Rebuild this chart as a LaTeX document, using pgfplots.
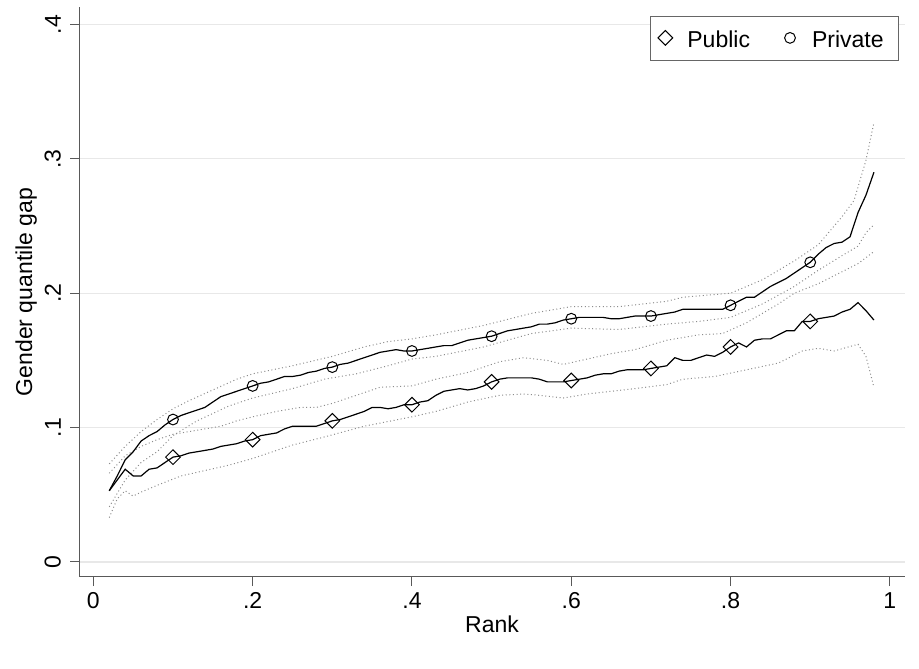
\documentclass[border=0pt]{standalone}
\usepackage{fontspec}
\setmainfont{Liberation Sans}
\usepackage{pgfplots}
\pgfplotsset{compat=1.18}
\begin{document}
\begin{tikzpicture}[font=\fontsize{23bp}{27bp}\selectfont]
\useasboundingbox (0,0) rectangle (919bp,669bp);
\begin{axis}[
  at={(79bp,92bp)}, anchor=south west,
  scale only axis, width=826bp, height=570bp,
  xmin=-0.018, xmax=1.019, ymin=-0.0112, ymax=0.413,
  axis x line*=bottom, axis y line*=left,
  axis line style={black!65, line width=1bp, -},
  xtick={0,0.2,0.4,0.6,0.8,1}, xticklabels={0,.2,.4,.6,.8,1},
  ytick={0,0.1,0.2,0.3,0.4}, yticklabels={0,.1,.2,.3,.4},
  tick align=outside, major tick length=9bp,
  tick style={black!65, line width=1bp},
  /pgf/number format/assume math mode=true,
  x tick label style={inner sep=0pt, anchor=north},
  xticklabel shift=6bp,
  y tick label style={inner sep=0pt, rotate=90, anchor=south},
  yticklabel shift=9bp,
  ymajorgrids, grid style={black!9, line width=1.3bp},
  xlabel={Rank}, ylabel={Gender quantile gap},
  xlabel style={at={([yshift=-39bp]axis description cs:0.5,0)}, anchor=north, inner sep=0pt},
  ylabel style={at={([xshift=-42bp]axis description cs:0,0.5)}, anchor=south, inner sep=0pt},
  legend style={at={(axis description cs:1,1)}, anchor=north east, xshift=-6bp, yshift=-9bp,
    draw=black!60, line width=0.8bp, inner xsep=7bp, inner ysep=7.5bp,
    nodes={inner xsep=0pt, inner ysep=4bp},
    /tikz/every odd column/.append style={column sep=14bp},
    /tikz/every even column/.append style={column sep=32bp},
    font=\fontsize{23bp}{27bp}\selectfont},
  legend columns=2,
  legend image code/.code={\path[draw=none, fill=none] (0bp,0bp) rectangle (16bp,16bp);
    \draw[#1, mark repeat=2, mark phase=2] plot coordinates {(0bp,2bp) (8bp,2bp) (16bp,2bp)};},
  clip=false,
]
% confidence bands (dotted)
\pgfplotsset{band/.style={black!45, line width=1bp, dash pattern=on 1bp off 2.6bp, forget plot, mark=none}}
% Public upper
\addplot[band] coordinates {(0.02,0.066)(0.04,0.079)(0.06,0.086)(0.08,0.091)(0.10,0.095)(0.13,0.098)(0.16,0.101)(0.18,0.105)(0.20,0.108)(0.23,0.112)(0.26,0.115)(0.28,0.115)(0.30,0.118)(0.33,0.124)(0.36,0.130)(0.40,0.131)(0.43,0.136)(0.47,0.141)(0.51,0.149)(0.54,0.152)(0.57,0.150)(0.59,0.147)(0.62,0.151)(0.65,0.155)(0.68,0.158)(0.72,0.165)(0.74,0.167)(0.76,0.169)(0.79,0.170)(0.82,0.178)(0.84,0.185)(0.86,0.192)(0.88,0.200)(0.91,0.207)(0.93,0.213)(0.96,0.222)(0.98,0.231)};
% Public lower
\addplot[band] coordinates {(0.02,0.033)(0.03,0.047)(0.04,0.053)(0.05,0.049)(0.06,0.052)(0.08,0.057)(0.11,0.064)(0.14,0.068)(0.17,0.072)(0.20,0.077)(0.25,0.087)(0.29,0.093)(0.34,0.101)(0.40,0.108)(0.43,0.112)(0.47,0.119)(0.51,0.124)(0.54,0.125)(0.56,0.124)(0.59,0.122)(0.62,0.125)(0.68,0.129)(0.72,0.132)(0.74,0.136)(0.78,0.138)(0.82,0.143)(0.86,0.148)(0.89,0.157)(0.91,0.159)(0.93,0.157)(0.96,0.162)(0.97,0.153)(0.98,0.130)};
% Private upper
\addplot[band] coordinates {(0.02,0.073)(0.04,0.086)(0.06,0.097)(0.08,0.106)(0.10,0.114)(0.12,0.120)(0.15,0.128)(0.18,0.136)(0.20,0.140)(0.25,0.146)(0.30,0.153)(0.34,0.160)(0.37,0.164)(0.40,0.166)(0.43,0.169)(0.49,0.176)(0.55,0.185)(0.60,0.190)(0.66,0.190)(0.72,0.194)(0.74,0.197)(0.80,0.200)(0.84,0.210)(0.88,0.224)(0.91,0.236)(0.94,0.257)(0.955,0.269)(0.97,0.299)(0.98,0.327)};
% Private lower
\addplot[band] coordinates {(0.02,0.041)(0.04,0.061)(0.06,0.074)(0.08,0.082)(0.10,0.094)(0.13,0.105)(0.17,0.116)(0.20,0.122)(0.25,0.129)(0.29,0.136)(0.33,0.140)(0.37,0.146)(0.40,0.151)(0.43,0.153)(0.49,0.160)(0.55,0.170)(0.60,0.174)(0.66,0.173)(0.72,0.177)(0.76,0.179)(0.80,0.182)(0.84,0.192)(0.88,0.205)(0.91,0.217)(0.94,0.228)(0.96,0.235)(0.97,0.245)(0.98,0.251)};
% Public estimate
\addplot[black, line width=1.2bp, mark=none, forget plot] coordinates {(0.02,0.053)(0.03,0.061)(0.04,0.069)(0.05,0.064)(0.06,0.064)(0.07,0.069)(0.08,0.070)(0.09,0.074)(0.10,0.078)(0.11,0.079)(0.12,0.081)(0.13,0.082)(0.14,0.083)(0.15,0.084)(0.16,0.086)(0.17,0.087)(0.18,0.088)(0.19,0.090)(0.20,0.091)(0.21,0.094)(0.22,0.095)(0.23,0.096)(0.24,0.099)(0.25,0.101)(0.26,0.101)(0.27,0.101)(0.28,0.101)(0.29,0.103)(0.30,0.105)(0.31,0.106)(0.32,0.108)(0.33,0.110)(0.34,0.112)(0.35,0.115)(0.36,0.115)(0.37,0.114)(0.38,0.115)(0.39,0.117)(0.40,0.117)(0.41,0.119)(0.42,0.120)(0.43,0.124)(0.44,0.127)(0.45,0.128)(0.46,0.129)(0.47,0.128)(0.48,0.129)(0.49,0.131)(0.50,0.134)(0.51,0.136)(0.52,0.137)(0.53,0.137)(0.54,0.137)(0.55,0.137)(0.56,0.136)(0.57,0.134)(0.58,0.134)(0.59,0.134)(0.60,0.135)(0.61,0.136)(0.62,0.137)(0.63,0.139)(0.64,0.140)(0.65,0.140)(0.66,0.142)(0.67,0.143)(0.68,0.143)(0.69,0.143)(0.70,0.144)(0.71,0.145)(0.72,0.146)(0.73,0.152)(0.74,0.150)(0.75,0.150)(0.76,0.152)(0.77,0.154)(0.78,0.153)(0.79,0.156)(0.80,0.160)(0.81,0.163)(0.82,0.160)(0.83,0.165)(0.84,0.166)(0.85,0.166)(0.86,0.169)(0.87,0.172)(0.88,0.172)(0.89,0.179)(0.90,0.179)(0.91,0.181)(0.92,0.182)(0.93,0.183)(0.94,0.186)(0.95,0.188)(0.96,0.193)(0.97,0.187)(0.98,0.180)};
% Private estimate
\addplot[black, line width=1.2bp, mark=none, forget plot] coordinates {(0.02,0.053)(0.03,0.064)(0.04,0.076)(0.05,0.082)(0.06,0.090)(0.07,0.094)(0.08,0.097)(0.09,0.102)(0.10,0.106)(0.11,0.109)(0.12,0.111)(0.13,0.113)(0.14,0.115)(0.15,0.119)(0.16,0.123)(0.17,0.125)(0.18,0.127)(0.19,0.129)(0.20,0.131)(0.21,0.133)(0.22,0.134)(0.23,0.136)(0.24,0.138)(0.25,0.138)(0.26,0.139)(0.27,0.141)(0.28,0.142)(0.29,0.144)(0.30,0.145)(0.31,0.147)(0.32,0.148)(0.33,0.150)(0.34,0.152)(0.35,0.154)(0.36,0.156)(0.37,0.157)(0.38,0.158)(0.39,0.157)(0.40,0.157)(0.41,0.158)(0.42,0.159)(0.43,0.160)(0.44,0.161)(0.45,0.161)(0.46,0.163)(0.47,0.165)(0.48,0.166)(0.49,0.167)(0.50,0.168)(0.51,0.170)(0.52,0.172)(0.53,0.173)(0.54,0.174)(0.55,0.175)(0.56,0.177)(0.57,0.177)(0.58,0.178)(0.59,0.180)(0.60,0.181)(0.61,0.182)(0.62,0.182)(0.63,0.182)(0.64,0.182)(0.65,0.181)(0.66,0.181)(0.67,0.182)(0.68,0.183)(0.69,0.183)(0.70,0.183)(0.71,0.184)(0.72,0.185)(0.73,0.186)(0.74,0.188)(0.75,0.188)(0.76,0.188)(0.77,0.188)(0.78,0.188)(0.79,0.188)(0.80,0.191)(0.81,0.194)(0.82,0.197)(0.83,0.197)(0.84,0.201)(0.85,0.205)(0.86,0.208)(0.87,0.211)(0.88,0.215)(0.89,0.219)(0.90,0.223)(0.91,0.229)(0.92,0.234)(0.93,0.237)(0.94,0.238)(0.95,0.242)(0.96,0.260)(0.97,0.273)(0.98,0.290)};
% markers
\addplot[only marks, mark=square, mark size=5.2bp, mark options={rotate=45, black, line width=1bp, fill=none, solid}] coordinates {(0.1,0.078)(0.2,0.091)(0.3,0.105)(0.4,0.117)(0.5,0.134)(0.6,0.135)(0.7,0.144)(0.8,0.160)(0.9,0.179)};
\addlegendentry{Public}
\addplot[only marks, mark=o, mark size=5.4bp, mark options={black, line width=1bp, fill=none, solid}] coordinates {(0.1,0.106)(0.2,0.131)(0.3,0.145)(0.4,0.157)(0.5,0.168)(0.6,0.181)(0.7,0.183)(0.8,0.191)(0.9,0.223)};
\addlegendentry{Private\hspace*{8bp}}
\end{axis}
\end{tikzpicture}
\end{document}
